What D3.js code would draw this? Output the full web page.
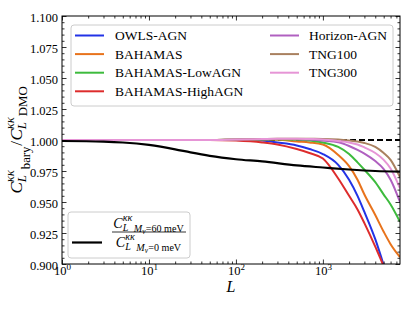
<!DOCTYPE html>
<html>
<head>
<meta charset="utf-8">
<script src="https://cdn.jsdelivr.net/npm/d3@7"></script>
<style>
  body { margin: 0; background: #fff; }
  svg { display: block; font-family: "Liberation Serif", "DejaVu Serif", serif; }
</style>
</head>
<body>
<svg id="chart" width="415" height="311"></svg>
<script>
// multipoles
const ells = [1, 10, 50, 100, 200, 300, 500, 700, 1000, 1500, 2000, 2500, 3000, 4000, 5000, 6000, 7700];

// C_L bary / C_L DMO for each simulation
const owls      = [1.0, 1.0, 1.0, 1.0, 0.9995, 0.998, 0.9956, 0.9927, 0.9887, 0.980, 0.968, 0.955, 0.942, 0.920, 0.899, 0.88, 0.855];
const bahamas   = [1.0, 1.0, 1.0, 1.0003, 1.0004, 1.0003, 0.9988, 0.998, 0.9964, 0.988, 0.979, 0.968, 0.956, 0.9395, 0.926, 0.916, 0.9056];
const lowAgn    = [1.0, 1.0, 1.0, 1.0003, 1.0005, 1.0006, 1.0003, 0.9996, 0.998, 0.9944, 0.9887, 0.982, 0.976, 0.966, 0.956, 0.948, 0.934];
const highAgn   = [1.0, 1.0, 1.0, 0.9995, 0.998, 0.9964, 0.9927, 0.9895, 0.985, 0.969, 0.955, 0.944, 0.933, 0.914, 0.898, 0.882, 0.86];
const horizon   = [1.0, 1.0, 1.0, 1.0004, 1.0007, 1.0008, 1.0007, 1.0004, 0.9995, 0.9982, 0.9952, 0.992, 0.989, 0.983, 0.9766, 0.968, 0.950];
const tng100    = [1.0, 1.0, 1.0, 1.0004, 1.0008, 1.001, 1.001, 1.001, 1.0009, 1.0004, 0.9996, 0.9988, 0.9976, 0.9944, 0.9895, 0.984, 0.970];
const tng300    = [1.0, 1.0, 1.0, 1.0004, 1.0008, 1.001, 1.001, 1.0008, 1.0005, 0.9992, 0.998, 0.9964, 0.994, 0.9895, 0.984, 0.977, 0.961];

// neutrino mass ratio curve
const nuEll   = [1, 3, 5, 10, 20, 30, 50, 100, 200, 500, 1000, 2000, 4000, 7700];
const nuRatio = [0.9992, 0.9987, 0.998, 0.996, 0.9925, 0.990, 0.9872, 0.9845, 0.9827, 0.9795, 0.9778, 0.9762, 0.975, 0.9745];

const simNames  = ["OWLS-AGN", "BAHAMAS", "BAHAMAS-LowAGN", "BAHAMAS-HighAGN", "Horizon-AGN", "TNG100", "TNG300"];
const simColors = ["#2233e6", "#e8731c", "#3dbb3d", "#dd2c2c", "#b060c0", "#a9805f", "#e695d6"];
const simData   = [owls, bahamas, lowAgn, highAgn, horizon, tng100, tng300];

const xTicks = [1, 10, 100, 1000];
const yTicks = d3.range(0.9, 1.1001, 0.025);

const svg = d3.select("#chart");
const pLeft = 62, pRight = 400, pTop = 16, pBottom = 264;

const xScale = d3.scaleLog().domain([1, 7700]).range([pLeft, pRight]);
const yScale = d3.scaleLinear().domain([0.9, 1.1]).range([pBottom, pTop]);

// minor ticks
let xMinor = [];
[1, 10, 100, 1000].forEach(d => {
  for (let k = 2; k <= 9; k++) if (d * k <= 7700) xMinor.push(d * k);
});
let yMinor = d3.range(0.9, 1.1001, 0.005).filter(v => Math.abs(Math.round(v / 0.025) * 0.025 - v) > 1e-6);

svg.append("clipPath").attr("id", "clip")
  .append("rect").attr("x", pLeft).attr("y", pTop).attr("width", pRight - pLeft).attr("height", pBottom - pTop);

// axes
let genAxes = () => {
  let xAxis = d3.axisBottom(xScale).tickValues(xTicks).tickSize(-4.5).tickPadding(3).tickFormat("");
  let gx = svg.append("g").attr("transform", "translate(0," + pBottom + ")").call(xAxis);
  gx.selectAll(".tick text").remove();
  gx.selectAll(".tick").append("text")
      .attr("fill", "#000").attr("y", 10.5).attr("text-anchor", "middle").attr("font-size", 12.5)
      .each(function(d) {
        let t = d3.select(this);
        t.append("tspan").text("10");
        t.append("tspan").attr("dy", -5).attr("font-size", 9).text(Math.round(Math.log10(d)));
      });
  svg.append("g").attr("transform", "translate(0," + pBottom + ")")
      .call(d3.axisBottom(xScale).tickValues(xMinor).tickSize(-2.5).tickFormat(""));
  svg.append("g").attr("transform", "translate(0," + pTop + ")")
      .call(d3.axisTop(xScale).tickValues(xTicks).tickSize(-4.5).tickFormat(""));
  svg.append("g").attr("transform", "translate(0," + pTop + ")")
      .call(d3.axisTop(xScale).tickValues(xMinor).tickSize(-2.5).tickFormat(""));

  let yAxis = d3.axisLeft(yScale).tickValues(yTicks).tickSize(-4.5).tickPadding(4).tickFormat(d3.format(".3f"));
  svg.append("g").attr("transform", "translate(" + pLeft + ",0)").call(yAxis)
      .selectAll("text").attr("font-size", 12.5).attr("dy", "0.45em");
  svg.append("g").attr("transform", "translate(" + pLeft + ",0)")
      .call(d3.axisLeft(yScale).tickValues(yMinor).tickSize(-2.5).tickFormat(""));
  svg.append("g").attr("transform", "translate(" + pRight + ",0)")
      .call(d3.axisRight(yScale).tickValues(yTicks).tickSize(-4.5).tickFormat(""));
  svg.append("g").attr("transform", "translate(" + pRight + ",0)")
      .call(d3.axisRight(yScale).tickValues(yMinor).tickSize(-2.5).tickFormat(""));

  svg.selectAll(".domain").remove();
  svg.selectAll("g").attr("font-family", null);
  svg.selectAll(".tick line").attr("stroke", "#000").attr("stroke-width", 0.8);
  svg.append("rect").attr("x", pLeft).attr("y", pTop).attr("width", pRight - pLeft).attr("height", pBottom - pTop)
      .attr("fill", "none").attr("stroke", "#000").attr("stroke-width", 1);
};

// curves
let genLines = () => {
  let g = svg.append("g").attr("clip-path", "url(#clip)");
  let line = d3.line().x(d => xScale(d[0])).y(d => yScale(d[1])).curve(d3.curveMonotoneX);

  g.append("line")
      .attr("x1", pLeft).attr("x2", pRight).attr("y1", yScale(1)).attr("y2", yScale(1))
      .attr("stroke", "#000").attr("stroke-width", 1.8).attr("stroke-dasharray", "6,3");

  simData.forEach((vals, i) => {
    g.append("path")
        .attr("d", line(ells.map((l, j) => [l, vals[j]])))
        .attr("fill", "none").attr("stroke", simColors[i]).attr("stroke-width", 2);
  });

  g.append("path")
      .attr("d", line(nuEll.map((l, j) => [l, nuRatio[j]])))
      .attr("fill", "none").attr("stroke", "#000").attr("stroke-width", 2.2);
};

// small math typesetter: pieces laid out left to right, stacks share an x
let mathText = (parent, pieces, size) => {
  let g = parent.append("g");
  let x = 0;
  pieces.forEach(p => {
    let items = p.stack ? p.stack : [p];
    let w = 0;
    items.forEach(q => {
      let t = g.append("text").attr("x", x).attr("y", -(q.sh || 0) * size)
          .attr("font-size", size * (q.sc || 1))
          .attr("font-style", q.it ? "italic" : "normal")
          .attr("fill", "#000").text(q.t);
      w = Math.max(w, t.node().getComputedTextLength());
    });
    x += w + (p.gap || 0) * size;
  });
  return { g: g, w: x };
};

let genLabels = () => {
  // x label
  svg.append("text").attr("x", 231).attr("y", 292).attr("text-anchor", "middle")
      .attr("font-size", 16).attr("font-style", "italic").text("L");

  // y label
  let yl = svg.append("g");
  let kk = { stack: [{ t: "κκ", it: true, sc: 0.75, sh: 0.45 }, { t: "L", it: true, sc: 0.75, sh: -0.25 }], gap: 0.05 };
  let m = mathText(yl, [
    { t: "C", it: true },
    kk,
    { t: "bary", sc: 0.75, sh: -0.45, gap: 0.05 },
    { t: "/", gap: 0.02 },
    { t: "C", it: true },
    kk,
    { t: "DMO", sc: 0.75, sh: -0.3 }
  ], 17);
  m.g.attr("transform", "translate(" + (-m.w / 2) + ",0)");
  yl.attr("transform", "translate(22,140) rotate(-90)");
};

let genLegends = () => {
  let lg = svg.append("g");
  lg.append("rect").attr("x", 71).attr("y", 25).attr("width", 322).attr("height", 81).attr("rx", 3)
      .attr("fill", "#fff").attr("fill-opacity", 0.8).attr("stroke", "#cccccc").attr("stroke-width", 1);
  simNames.forEach((name, i) => {
    let col = i < 4 ? 0 : 1;
    let row = i < 4 ? i : i - 4;
    let hx = col === 0 ? 75 : 270;
    let tx = col === 0 ? 115 : 309;
    let yy = 35.5 + row * 18.6;
    lg.append("line").attr("x1", hx).attr("x2", hx + 29).attr("y1", yy).attr("y2", yy)
        .attr("stroke", simColors[i]).attr("stroke-width", 2);
    lg.append("text").attr("x", tx).attr("y", yy + 4.6).attr("font-size", 13.5).attr("fill", "#000").text(name);
  });

  let lg2 = svg.append("g");
  lg2.append("rect").attr("x", 68).attr("y", 212).attr("width", 122).attr("height", 46).attr("rx", 3)
      .attr("fill", "#fff").attr("fill-opacity", 0.8).attr("stroke", "#cccccc").attr("stroke-width", 1);
  lg2.append("line").attr("x1", 72).attr("x2", 102).attr("y1", 242.5).attr("y2", 242.5)
      .attr("stroke", "#000").attr("stroke-width", 2.2);

  let kk = { stack: [{ t: "κκ", it: true, sc: 0.72, sh: 0.45 }, { t: "L", it: true, sc: 0.72, sh: -0.25 }], gap: 0.1 };
  let num = mathText(lg2, [
    { t: "C", it: true }, kk,
    { t: "M", it: true, sc: 0.72, sh: -0.3 },
    { t: "ν", it: true, sc: 0.52, sh: -0.45, gap: 0.03 },
    { t: "=60 meV", sc: 0.72, sh: -0.3 }
  ], 14);
  num.g.attr("transform", "translate(" + (148.5 - num.w / 2) + ",227.5)");
  let den = mathText(lg2, [
    { t: "C", it: true }, kk,
    { t: "M", it: true, sc: 0.72, sh: -0.3 },
    { t: "ν", it: true, sc: 0.52, sh: -0.45, gap: 0.03 },
    { t: "=0 meV", sc: 0.72, sh: -0.3 }
  ], 14);
  den.g.attr("transform", "translate(" + (148.5 - den.w / 2) + ",246.5)");
  lg2.append("line").attr("x1", 112).attr("x2", 186).attr("y1", 232).attr("y2", 232)
      .attr("stroke", "#000").attr("stroke-width", 0.8);
};

genLines();
genAxes();
genLegends();
genLabels();
</script>
</body>
</html>
